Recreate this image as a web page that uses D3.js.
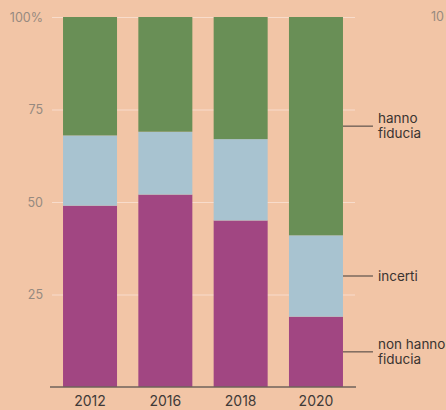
<!DOCTYPE html>
<html>
<head>
<meta charset="utf-8">
<script src="https://cdn.jsdelivr.net/npm/d3@7"></script>
<style>
  html, body { margin: 0; padding: 0; background: #f2c5a6; }
  svg { display: block; }
</style>
</head>
<body>
<svg id="chart" width="446" height="410"></svg>
<script>
// Trust survey: share of respondents per year (percent)
const years = ["2012", "2016", "2018", "2020"];
const nonHannoFiducia = [49, 52, 45, 19];
const incerti = [19, 17, 22, 22];
const hannoFiducia = [32, 31, 33, 59];
const yTicks = [25, 50, 75, 100];
const seriesNames = ["non hanno fiducia", "incerti", "hanno fiducia"];

const colors = {
  "non hanno fiducia": "#a14682",
  "incerti": "#a8c3d0",
  "hanno fiducia": "#698f56"
};

const svg = d3.select("#chart");
const W = 446, H = 410;
const font = "Inter, 'Noto Sans', sans-serif";

svg.append("rect").attr("width", W).attr("height", H).attr("fill", "#f2c5a6");

const x = d3.scaleBand().domain(years).range([50, 356]).paddingInner(0.283).paddingOuter(0.173);
const y = d3.scaleLinear().domain([0, 100]).range([387, 17]);

const rows = years.map((yr, i) => ({
  year: yr,
  "non hanno fiducia": nonHannoFiducia[i],
  "incerti": incerti[i],
  "hanno fiducia": hannoFiducia[i]
}));
const stacked = d3.stack().keys(seriesNames)(rows);

// Gridlines and left tick labels
const yAxis = d3.axisLeft(y).tickValues(yTicks)
  .tickSize(-(355 - 52))
  .tickFormat(d => d === 100 ? "100%" : d);
const gy = svg.append("g").attr("transform", "translate(52,0)").call(yAxis);
gy.select(".domain").remove();
gy.selectAll(".tick line").attr("stroke", "#f8dccb").attr("stroke-width", 1.2);
gy.selectAll(".tick text")
  .attr("x", -9)
  .attr("fill", "#968a80")
  .attr("font-family", font)
  .attr("font-size", 12.5);

// Stacked bars
svg.append("g").selectAll("g")
  .data(stacked)
  .join("g")
  .attr("fill", d => colors[d.key])
  .selectAll("rect")
  .data(d => d)
  .join("rect")
  .attr("x", d => x(d.data.year))
  .attr("width", x.bandwidth())
  .attr("y", d => y(d[1]))
  .attr("height", d => y(d[0]) - y(d[1]));

// Baseline and year labels
const xAxis = d3.axisBottom(x).tickSize(0).tickPadding(9);
const gx = svg.append("g").attr("transform", `translate(0,${y(0)})`).call(xAxis);
gx.select(".domain").attr("stroke", "#6f625a").attr("stroke-width", 1.5)
  .attr("d", "M50,0H356");
gx.selectAll(".tick text")
  .attr("fill", "#3f3a38")
  .attr("font-family", font)
  .attr("font-size", 14);

// Series labels beside the last bar
const last = stacked.map(s => s[s.length - 1]);
const labelLines = {
  "non hanno fiducia": ["non hanno", "fiducia"],
  "incerti": ["incerti"],
  "hanno fiducia": ["hanno", "fiducia"]
};
const lastX = x(years[years.length - 1]) + x.bandwidth();
const lab = svg.append("g");
stacked.forEach((s, i) => {
  const d = last[i];
  const ly = y((d[0] + d[1]) / 2);
  lab.append("line")
    .attr("x1", lastX).attr("x2", lastX + 30)
    .attr("y1", ly).attr("y2", ly)
    .attr("stroke", "#5e524b").attr("stroke-width", 1.2);
  const lines = labelLines[s.key];
  const t = lab.append("text")
    .attr("font-family", font)
    .attr("font-size", 13.5)
    .attr("fill", "#3a3431");
  lines.forEach((ln, j) => {
    t.append("tspan")
      .attr("x", lastX + 35)
      .attr("y", lines.length > 1 ? ly - 3 + j * 15 : ly + 5)
      .text(ln);
  });
});

// Start of the neighbouring panel's axis label
svg.append("text")
  .attr("x", 431).attr("y", 21)
  .attr("font-family", font).attr("font-size", 12.5)
  .attr("fill", "#968a80")
  .text("10");
</script>
</body>
</html>
